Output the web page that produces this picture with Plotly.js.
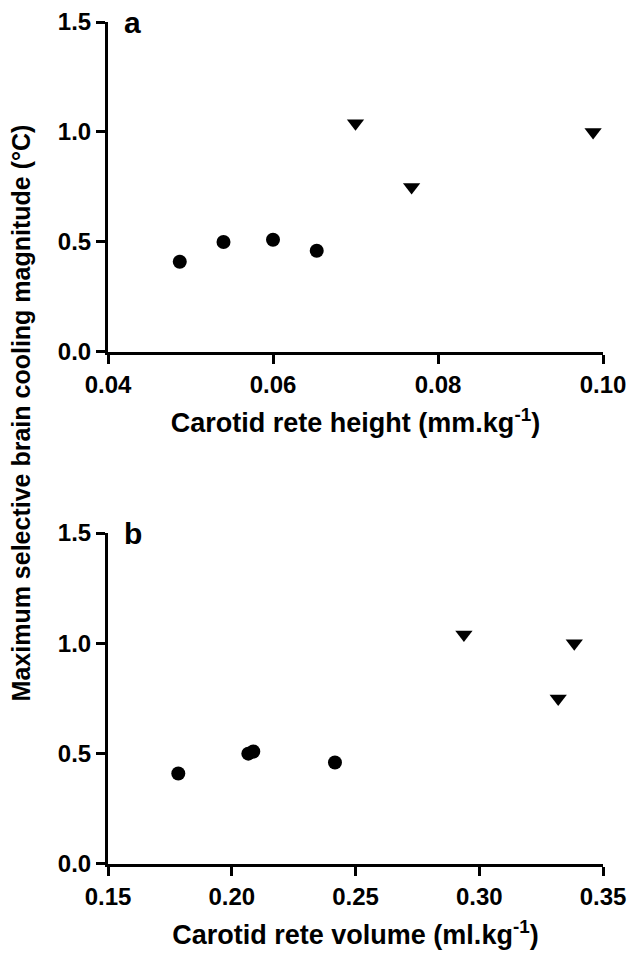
<!DOCTYPE html>
<html>
<head>
<meta charset="utf-8">
<script src="https://cdn.plot.ly/plotly-3.0.1.min.js"></script>
<style>html,body{margin:0;padding:0;background:#fff;}#chart{width:630px;height:954px;}</style>
</head>
<body>
<div id="chart"></div>
<script>
// Circles group
const circleHeight = [0.0487, 0.0540, 0.0600, 0.0653];
const circleVolume = [0.1784, 0.2067, 0.2087, 0.2417];
const circleCooling = [0.41, 0.50, 0.51, 0.46];
// Triangles group
const triHeight = [0.0700, 0.0768, 0.0988];
const triVolume = [0.2938, 0.3319, 0.3384];
const triCooling = [1.04, 0.75, 1.00];

const yTicks = [0, 0.5, 1.0, 1.5];
const xTicksA = [0.04, 0.06, 0.08, 0.10];
const xTicksB = [0.15, 0.20, 0.25, 0.30, 0.35];

const FONT = 'Liberation Sans, Arial, sans-serif';
const circleMarker = {symbol: 'circle', size: 14, color: '#000', line: {width: 0}};
const triMarker = {symbol: 'triangle-down', size: 15, color: '#000', line: {width: 0}};

const traces = [
  {x: circleHeight, y: circleCooling, xaxis: 'x', yaxis: 'y', mode: 'markers', type: 'scatter', marker: circleMarker},
  {x: triHeight, y: triCooling, xaxis: 'x', yaxis: 'y', mode: 'markers', type: 'scatter', marker: triMarker},
  {x: circleVolume, y: circleCooling, xaxis: 'x2', yaxis: 'y2', mode: 'markers', type: 'scatter', marker: circleMarker},
  {x: triVolume, y: triCooling, xaxis: 'x2', yaxis: 'y2', mode: 'markers', type: 'scatter', marker: triMarker}
];

const axisCommon = {
  showline: true, linecolor: '#000', linewidth: 3,
  ticks: 'outside', ticklen: 9, tickwidth: 3, tickcolor: '#000',
  showgrid: false, zeroline: false, mirror: false,
  tickfont: {family: FONT, size: 24, color: '#000', weight: 'bold'}
};
const titleFont = {family: FONT, size: 27, color: '#000', weight: 'bold'};

const layout = {
  width: 630, height: 954,
  margin: {l: 108, r: 27, t: 22, b: 90},
  paper_bgcolor: '#fff', plot_bgcolor: '#fff',
  showlegend: false,
  xaxis: Object.assign({}, axisCommon, {
    domain: [0, 1], anchor: 'y', range: [0.04, 0.10], tickvals: xTicksA, tickformat: '.2f',
    title: {text: 'Carotid rete height (mm.kg<sup>-1</sup>)', font: titleFont, standoff: 17}
  }),
  yaxis: Object.assign({}, axisCommon, {
    domain: [0.6081, 1], anchor: 'x', range: [0, 1.5], tickvals: yTicks, tickformat: '.1f'
  }),
  xaxis2: Object.assign({}, axisCommon, {
    domain: [0, 1], anchor: 'y2', range: [0.15, 0.35], tickvals: xTicksB, tickformat: '.2f',
    title: {text: 'Carotid rete volume (ml.kg<sup>-1</sup>)', font: titleFont, standoff: 17}
  }),
  yaxis2: Object.assign({}, axisCommon, {
    domain: [0, 0.3931], anchor: 'x2', range: [0, 1.5], tickvals: yTicks, tickformat: '.1f'
  }),
  annotations: [
    {text: 'a', xref: 'x domain', yref: 'y domain', x: 0.028, y: 1.0, xanchor: 'left', yanchor: 'middle',
     showarrow: false, font: {family: FONT, size: 30, color: '#000', weight: 'bold'}},
    {text: 'b', xref: 'x2 domain', yref: 'y2 domain', x: 0.028, y: 1.0, xanchor: 'left', yanchor: 'middle',
     showarrow: false, font: {family: FONT, size: 30, color: '#000', weight: 'bold'}},
    {text: 'Maximum selective brain cooling magnitude (°C)', xref: 'paper', yref: 'paper', x: -0.175, y: 0.5356,
     xanchor: 'center', yanchor: 'middle', textangle: -90, showarrow: false,
     font: {family: FONT, size: 25, color: '#000', weight: 'bold'}}
  ]
};

Plotly.newPlot('chart', traces, layout, {displayModeBar: false, staticPlot: true});
</script>
</body>
</html>
